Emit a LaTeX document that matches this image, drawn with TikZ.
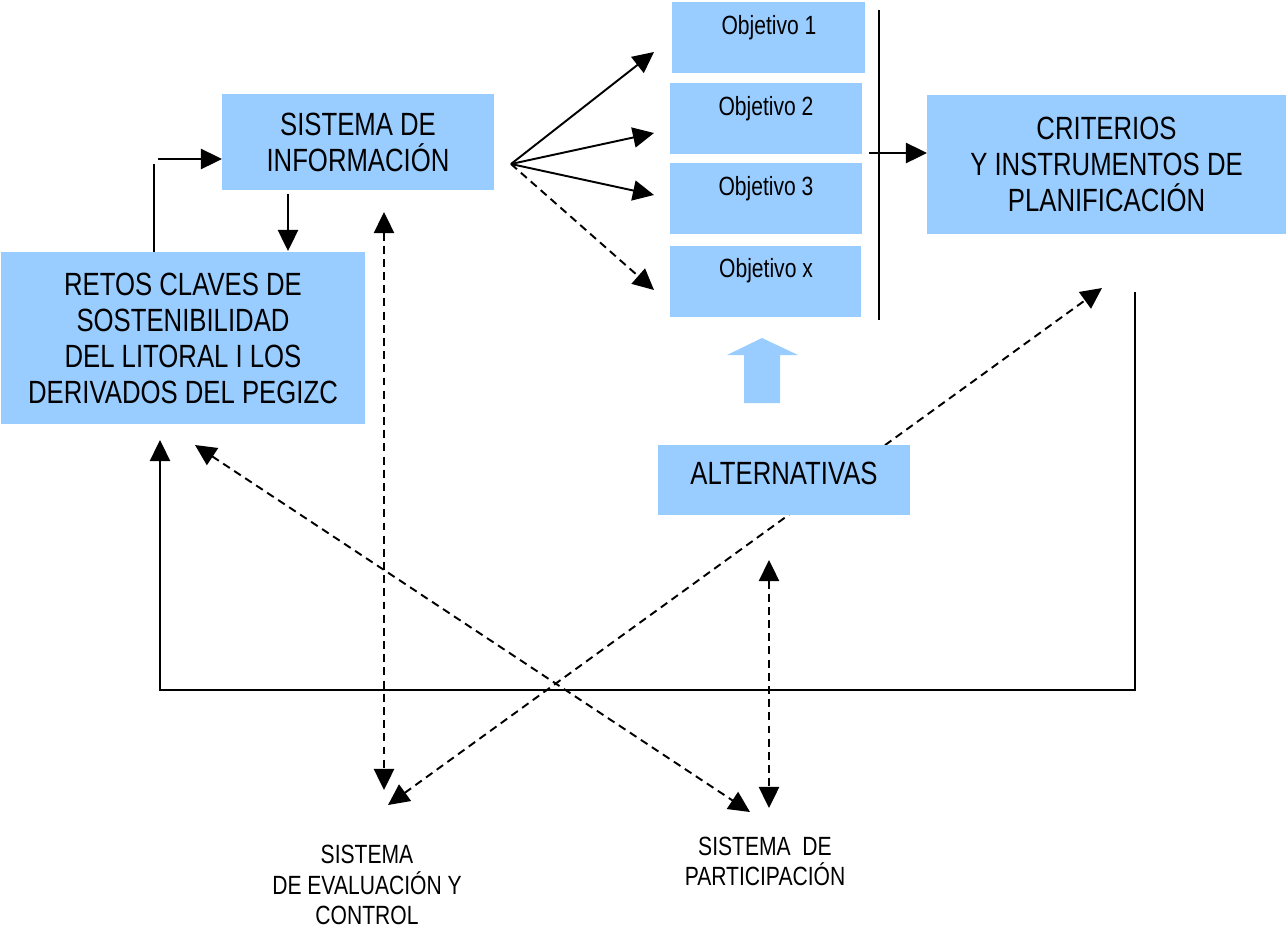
\documentclass[tikz,border=0pt]{standalone}
\usepackage{fontspec}
\setmainfont{Liberation Sans}[FakeStretch=0.8]
\usetikzlibrary{arrows.meta}
\definecolor{boxblue}{RGB}{153,204,255}
\begin{document}
\begin{tikzpicture}[x=0.02cm,y=-0.02cm,
  box/.style={fill=boxblue,draw=none,inner sep=0pt,align=center,
    font=\fontsize{18.3pt}{20.5pt}\selectfont},
  objbox/.style={fill=boxblue,draw=none,inner sep=0pt,minimum height=1.42cm},
  objtext/.style={inner sep=0pt,font=\fontsize{15pt}{17pt}\selectfont},
  lbl/.style={inner sep=0pt,align=center,font=\fontsize{15pt}{17.2pt}\selectfont},
  tip/.style={Triangle[length=12pt,width=11.5pt]},
  conn/.style={line width=1.1pt,-{Triangle[length=12pt,width=11.5pt]}},
  plain/.style={line width=1.1pt},
  dconn/.style={line width=1.1pt,dash pattern=on 4.5pt off 3pt,
    {Triangle[length=12pt,width=11.5pt]}-{Triangle[length=12pt,width=11.5pt]}},
  dsingle/.style={line width=1.1pt,dash pattern=on 4.5pt off 3pt,
    -{Triangle[length=12pt,width=11.5pt]}}]
\useasboundingbox (0,0) rectangle (1287,930);

% coordinates
\coordinate (fan) at (511,164);
\coordinate (t1) at (654,52);
\coordinate (t2) at (654,133);
\coordinate (t3) at (654,195);
\coordinate (tx) at (654,290);
\coordinate (infoS) at (288,194);
\coordinate (retosN) at (288,251);
\coordinate (loopA) at (154,252);
\coordinate (loopB) at (154,164);
\coordinate (loopC) at (158,159);
\coordinate (infoW) at (222,159);
\coordinate (barT) at (879,10);
\coordinate (barB) at (879,320);
\coordinate (barA) at (869,153);
\coordinate (critW) at (927,153);
\coordinate (vA) at (384,212);
\coordinate (vB) at (384,790);
\coordinate (dA) at (195,445);
\coordinate (dB) at (750,812);
\coordinate (eA) at (388,805);
\coordinate (eB) at (1102,288);
\coordinate (pA) at (769,560);
\coordinate (pB) at (769,808);
\coordinate (rA) at (1135,292);
\coordinate (rB) at (1135,690);
\coordinate (rC) at (160,690);
\coordinate (rD) at (160,440);

% this dashed line passes behind ALTERNATIVAS
\draw[dconn] (eA) -- (eB);

% boxes
\node[box,minimum width=5.44cm,minimum height=1.92cm] (info) at (358,142) {SISTEMA DE\\INFORMACIÓN};
\node[box,minimum width=7.28cm,minimum height=3.44cm] (retos) at (183,338)
  {RETOS CLAVES DE\\SOSTENIBILIDAD\\DEL LITORAL I LOS\\DERIVADOS DEL PEGIZC};
\node[box,minimum width=7.18cm,minimum height=2.78cm] (crit) at (1106.5,164.5)
  {CRITERIOS\\Y INSTRUMENTOS DE\\PLANIFICACIÓN};
\node[box,minimum width=5.04cm,minimum height=1.4cm] (alt) at (784,480) {};
\node[box] (altt) at (784,473) {ALTERNATIVAS};

\node[objbox,minimum width=3.86cm] (o1) at (768.5,37.5) {};
\node[objbox,minimum width=3.84cm] (o2) at (766,118.5) {};
\node[objbox,minimum width=3.84cm] (o3) at (766,198.5) {};
\node[objbox,minimum width=3.82cm] (ox) at (765.5,281.5) {};
\node[objtext] (o1t) at (769,28) {Objetivo 1};
\node[objtext] (o2t) at (766,109) {Objetivo 2};
\node[objtext] (o3t) at (766,189) {Objetivo 3};
\node[objtext] (oxt) at (766,271) {Objetivo x};

% big up arrow
\fill[boxblue] (744,403) -- (744,355) -- (727,355) -- (762,338) -- (798,355)
  -- (780,355) -- (780,403) -- cycle;

% bottom labels
\node[lbl] (eval) at (367,885) {SISTEMA\\DE EVALUACIÓN Y\\CONTROL};
\node[lbl] (part) at (765,861.5) {SISTEMA~~DE\\PARTICIPACIÓN};

% connectors
\draw[conn] (fan) -- (t1);
\draw[conn] (fan) -- (t2);
\draw[conn] (fan) -- (t3);
\draw[dsingle] (fan) -- (tx);
\draw[conn] (infoS) -- (retosN);
\draw[plain] (loopA) -- (loopB);
\draw[conn] (loopC) -- (infoW);
\draw[plain] (barT) -- (barB);
\draw[conn] (barA) -- (critW);
\draw[dconn] (vA) -- (vB);
\draw[dconn] (dA) -- (dB);
\draw[dconn] (pA) -- (pB);
\draw[conn] (rA) -- (rB) -- (rC) -- (rD);
\end{tikzpicture}
\end{document}
